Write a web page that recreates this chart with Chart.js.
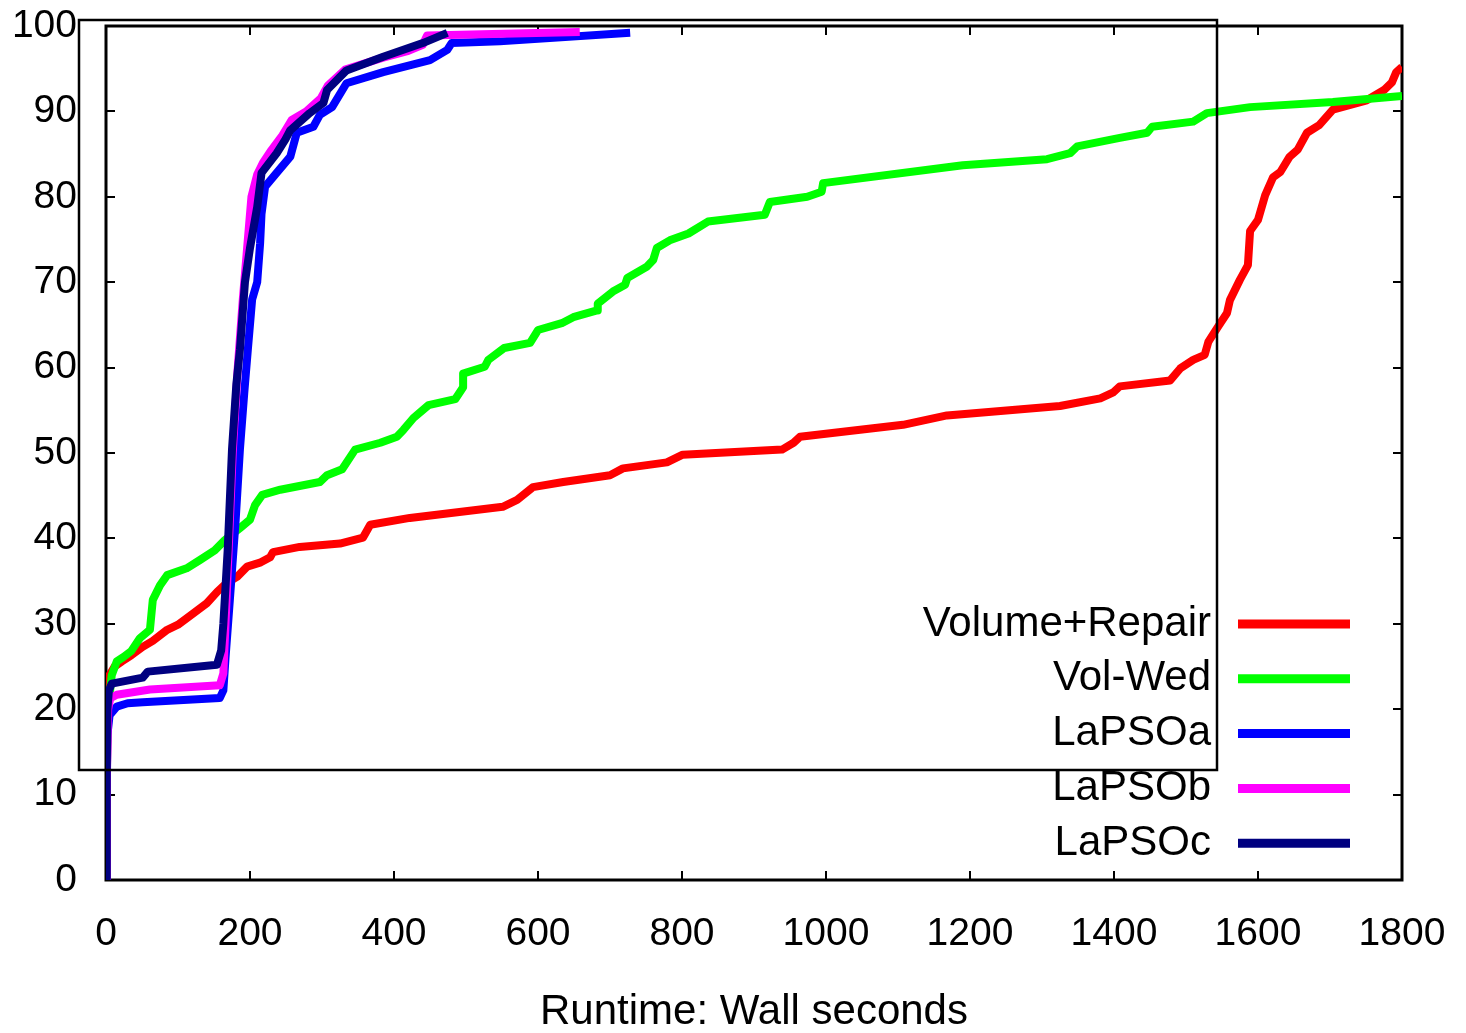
<!DOCTYPE html>
<html>
<head>
<meta charset="utf-8">
<title>Runtime: Wall seconds</title>
<script src="https://cdn.jsdelivr.net/npm/chart.js@4/dist/chart.umd.min.js"></script>
<style>
  html, body { margin: 0; padding: 0; background: #fff; }
  #wrap { width: 1466px; height: 1033px; }
</style>
</head>
<body>
<div id="wrap"><canvas id="runtimeChart" width="1466" height="1033"></canvas></div>
<script>
// curves: [wall seconds, percent solved]
const volumeRepair = [
  [0, 0], [1, 10], [2, 18], [5, 24], [12, 25], [22, 25.6], [35, 26.3], [51, 27.3],
  [65, 28], [85, 29.3], [100, 29.9], [121, 31.2], [140, 32.4], [155, 33.8],
  [168, 34.8], [182, 35.5], [196, 36.7], [215, 37.2], [228, 37.8], [232, 38.4],
  [269, 39], [325, 39.4], [357, 40.1], [367, 41.6], [422, 42.4], [551, 43.7],
  [571, 44.5], [593, 46], [635, 46.6], [700, 47.4], [718, 48.2], [779, 48.9],
  [801, 49.8], [939, 50.4], [955, 51.2], [964, 51.9], [1107, 53.3], [1168, 54.4],
  [1325, 55.5], [1381, 56.4], [1399, 57.1], [1408, 57.8], [1478, 58.5],
  [1492, 59.9], [1510, 60.9], [1526, 61.5], [1531, 63], [1543, 64.6], [1557, 66.4],
  [1561, 67.9], [1575, 70.3], [1586, 72], [1589, 76], [1600, 77.3], [1610, 80.2],
  [1621, 82.3], [1631, 82.9], [1644, 84.7], [1655, 85.5], [1668, 87.5],
  [1685, 88.4], [1704, 90.2], [1751, 91.3], [1775, 92.5], [1786, 93.4],
  [1792, 94.6], [1800, 95.2]
];
const volWed = [
  [0, 12], [3, 20], [8, 24], [15, 25.6], [24, 26.1], [35, 26.8], [47, 28.3],
  [61, 29.3], [65, 32.8], [75, 34.5], [85, 35.7], [112, 36.5], [131, 37.5],
  [151, 38.6], [165, 39.8], [186, 41.2], [200, 42.2], [207, 43.9], [217, 45.1],
  [242, 45.7], [297, 46.6], [307, 47.4], [328, 48.1], [346, 50.4], [381, 51.2],
  [404, 51.9], [413, 52.7], [427, 54.1], [448, 55.6], [485, 56.3], [496, 57.7],
  [496, 59.3], [526, 60.1], [531, 60.9], [553, 62.3], [589, 62.9], [600, 64.4],
  [633, 65.2], [649, 65.9], [682, 66.7], [683, 67.5], [704, 68.9], [721, 69.7],
  [724, 70.5], [751, 71.8], [760, 72.6], [765, 74], [783, 74.9], [809, 75.7],
  [836, 77.1], [915, 77.9], [922, 79.4], [974, 80], [994, 80.6], [996, 81.6],
  [1190, 83.7], [1307, 84.4], [1339, 85.1], [1349, 85.9], [1408, 86.9],
  [1446, 87.5], [1453, 88.2], [1510, 88.8], [1529, 89.8], [1589, 90.5],
  [1704, 91.1], [1800, 91.8]
];
const lapsoA = [
  [0, 0], [1, 10], [2, 17], [5, 19.3], [15, 20.3], [30, 20.7], [51, 20.8],
  [158, 21.3], [163, 22.2], [166, 26], [172, 32.8], [180, 42], [186, 50.4],
  [192, 57], [197, 62.1], [203, 68], [210, 70], [214, 74.5], [216, 78],
  [221, 81.2], [237, 82.8], [256, 84.7], [265, 87.5], [288, 88.2], [297, 89.6],
  [314, 90.5], [334, 93.3], [385, 94.6], [450, 96], [474, 97.2], [480, 98],
  [547, 98.2], [728, 99.2]
];
const lapsoB = [
  [0, 0], [1, 12], [3, 20], [6, 21.3], [15, 21.7], [61, 22.3], [158, 22.8],
  [163, 24.2], [166, 30], [170, 38], [176, 50], [183, 60], [190, 68], [196, 74],
  [202, 80], [210, 82.6], [218, 84], [230, 85.5], [245, 87.2], [258, 89],
  [278, 90], [298, 91.5], [308, 93], [332, 94.9], [385, 96.3], [420, 97.1],
  [440, 97.8], [446, 98.9], [658, 99.3]
];
const lapsoC = [
  [0, 0], [1, 12], [2, 20], [4, 22.2], [8, 23], [51, 23.7], [58, 24.4],
  [154, 25.2], [160, 26.9], [163, 30], [169, 38.6], [175, 50.4], [181, 58],
  [186, 62.1], [193, 70], [200, 74], [210, 78.8], [216, 82.8], [237, 85.1],
  [249, 86.7], [256, 87.8], [283, 89.8], [302, 91], [307, 92.5], [334, 94.8],
  [385, 96.4], [440, 98], [474, 99.2]
];

const seriesNames = ['Volume+Repair', 'Vol-Wed', 'LaPSOa', 'LaPSOb', 'LaPSOc'];
const seriesColors = ['#ff0000', '#00ff00', '#0000ff', '#ff00ff', '#000080'];
const seriesData = [volumeRepair, volWed, lapsoA, lapsoB, lapsoC];

const xTicks = [0, 200, 400, 600, 800, 1000, 1200, 1400, 1600, 1800];
const yTicks = [0, 10, 20, 30, 40, 50, 60, 70, 80, 90, 100];

const FONT = "'Liberation Sans', Arial, sans-serif";

// keep the axes from reserving extra room for overhanging labels
const noOverhang = s => {
  s.paddingTop = 0; s.paddingBottom = 0;
  s.paddingLeft = 0; s.paddingRight = 0;
};

// border + inward ticks on all four sides
const framePlugin = {
  id: 'frame',
  beforeDatasetsDraw(chart) {
    const { ctx, chartArea: a, scales: { x, y } } = chart;
    ctx.save();
    ctx.strokeStyle = '#000';
    ctx.lineWidth = 3;
    ctx.strokeRect(a.left, a.top, a.right - a.left, a.bottom - a.top);
    ctx.lineWidth = 2;
    ctx.beginPath();
    xTicks.forEach(v => {
      const px = Math.round(x.getPixelForValue(v));
      ctx.moveTo(px, a.bottom); ctx.lineTo(px, a.bottom - 9);
      ctx.moveTo(px, a.top); ctx.lineTo(px, a.top + 9);
    });
    yTicks.forEach(v => {
      const py = Math.round(y.getPixelForValue(v));
      ctx.moveTo(a.left, py); ctx.lineTo(a.left + 9, py);
      ctx.moveTo(a.right, py); ctx.lineTo(a.right - 9, py);
    });
    ctx.stroke();
    ctx.restore();
  },
  afterDatasetsDraw(chart) {
    // the second, offset box
    const { ctx, chartArea: a } = chart;
    ctx.save();
    ctx.strokeStyle = '#000';
    ctx.lineWidth = 2.5;
    ctx.strokeRect(a.left - 27, a.top - 6, 1138, a.bottom - a.top - 104);
    ctx.restore();
  }
};

// key in the lower right: label text, then a sample of the line
const keyPlugin = {
  id: 'key',
  afterDraw(chart) {
    const { ctx, chartArea: a } = chart;
    const textRight = a.right - 191;
    const lineStart = a.right - 164;
    const lineEnd = a.right - 52;
    const firstRow = a.bottom - 256;
    const rowGap = 54.8;
    ctx.save();
    ctx.font = '42px ' + FONT;
    ctx.textAlign = 'right';
    ctx.textBaseline = 'middle';
    chart.data.datasets.forEach((ds, i) => {
      const yy = firstRow + i * rowGap;
      ctx.fillStyle = '#000';
      ctx.fillText(ds.label, textRight, yy);
      ctx.strokeStyle = ds.borderColor;
      ctx.lineWidth = 9;
      ctx.beginPath();
      ctx.moveTo(lineStart, yy);
      ctx.lineTo(lineEnd, yy);
      ctx.stroke();
    });
    ctx.restore();
  }
};

new Chart(document.getElementById('runtimeChart'), {
  type: 'scatter',
  data: {
    datasets: seriesData.map((pts, i) => ({
      label: seriesNames[i],
      data: pts.map(p => ({ x: p[0], y: p[1] })),
      showLine: true,
      borderColor: seriesColors[i],
      backgroundColor: seriesColors[i],
      borderWidth: 8,
      borderJoinStyle: 'round',
      pointRadius: 0,
      tension: 0,
      order: seriesNames.length - i
    }))
  },
  options: {
    responsive: false,
    animation: false,
    devicePixelRatio: 1,
    layout: { padding: { left: 0, top: 26, right: 64, bottom: 0 } },
    plugins: {
      legend: { display: false },
      tooltip: { enabled: false }
    },
    scales: {
      x: {
        type: 'linear',
        min: 0,
        max: 1800,
        afterBuildTicks: s => { s.ticks = xTicks.map(v => ({ value: v })); },
        afterFit: s => { s.height = 153; noOverhang(s); },
        grid: { display: false, drawTicks: false },
        border: { display: false },
        ticks: {
          autoSkip: false,
          maxRotation: 0,
          padding: 31,
          color: '#000',
          font: { family: FONT, size: 39 },
          callback: v => String(v)
        },
        title: {
          display: true,
          text: 'Runtime: Wall seconds',
          color: '#000',
          font: { family: FONT, size: 42, lineHeight: 1 },
          padding: { top: 0, bottom: 0 }
        }
      },
      y: {
        min: 0,
        max: 100,
        afterBuildTicks: s => { s.ticks = yTicks.map(v => ({ value: v })); },
        afterFit: s => { s.width = 106; noOverhang(s); },
        grid: { display: false, drawTicks: false },
        border: { display: false },
        ticks: {
          padding: 29,
          color: '#000',
          font: { family: FONT, size: 39 },
          callback: v => String(v)
        }
      }
    }
  },
  plugins: [framePlugin, keyPlugin]
});
</script>
</body>
</html>
